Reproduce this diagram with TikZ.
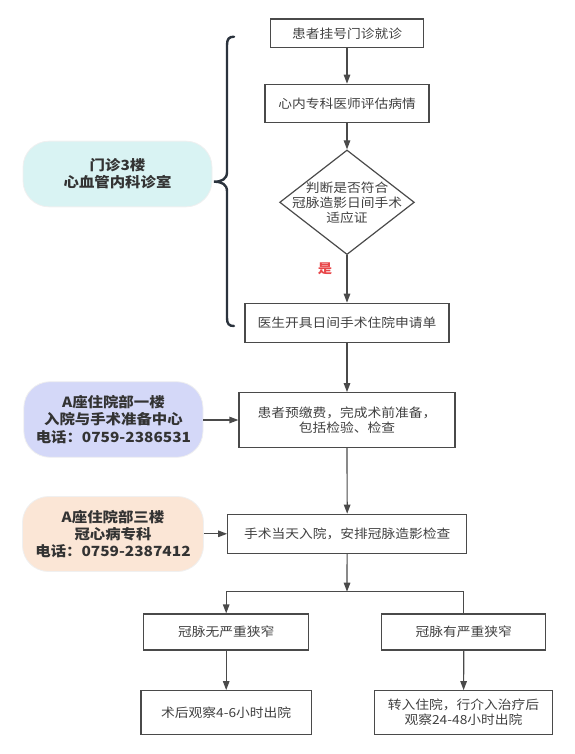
\documentclass[tikz,border=0pt]{standalone}
\usepackage{fontspec}
\setmainfont{Noto Sans CJK SC}[FakeStretch=1.1]
\usetikzlibrary{arrows.meta,shapes.geometric}
\definecolor{boxline}{HTML}{4A4A4A}
\definecolor{boxtext}{HTML}{404040}
\definecolor{bracecol}{HTML}{2B333D}
\definecolor{tealfill}{HTML}{D9F3F3}
\definecolor{lavfill}{HTML}{D4D8F8}
\definecolor{peachfill}{HTML}{FBE6D6}
\definecolor{yesred}{HTML}{E8474A}
\tikzset{
  stepbox/.style = {draw = boxline, line width = 1.2pt, text = boxtext, inner sep = 0pt,
    align = center, font = \fontsize{12.5}{15.3}\selectfont},
  decision/.style = {diamond, draw = boxline, line width = 1.2pt, inner sep = 0pt,
    minimum width = 134.7pt, minimum height = 104.6pt},
  place/.style = {rounded corners = 26pt, draw = gray!12, line width = 0.8pt, text = black!80,
    inner sep = 0pt, align = center, font = \fontsize{14}{17.2}\selectfont\bfseries},
  flow/.style = {draw = boxline, line width = 1.2pt, -{Triangle[length = 9pt, width = 6.5pt]}},
  link/.style = {draw = boxline, line width = 1.2pt}
}
\begin{document}
\begin{tikzpicture}[x = 1pt, y = -1pt]
        \useasboundingbox (0,0) rectangle (574,754);
        % main column
        \node[stepbox, minimum width = 152.6pt, minimum height = 28.7pt](visit)at(347,33.3){患者挂号门诊就诊};
        \node[stepbox, minimum width = 164pt, minimum height = 38.4pt](assess)at(347,103.5){心内专科医师评估病情};
        \node[decision](judge)at(347,202.3){};
        \node[text = boxtext, align = center, font = \fontsize{12.5}{15}\selectfont](judgetext)at(judge.center){判断是否符合\\冠脉造影日间手术\\适应证};
        \node[stepbox, minimum width = 204pt, minimum height = 39.4pt](apply)at(347,323){医生开具日间手术住院申请单};
        \node[stepbox, minimum width = 216pt, minimum height = 54.6pt](prepare)at(347,420){患者预缴费，完成术前准备，\\包括检验、检查};
        \node[stepbox, minimum width = 239pt, minimum height = 39pt](admit)at(347.2,533.8){手术当天入院，安排冠脉造影检查};
        % branches
        \node[stepbox, minimum width = 164.8pt, minimum height = 36pt](mild)at(226.2,632){冠脉无严重狭窄};
        \node[stepbox, minimum width = 164pt, minimum height = 36pt](severe)at(463.8,632){冠脉有严重狭窄};
        \node[stepbox, minimum width = 170.5pt, minimum height = 43.6pt](leave)at(226.2,712.5){术后观察4-6小时出院};
        \node[stepbox, minimum width = 177.5pt, minimum height = 43.6pt](transfer)at(463.5,712.5){转入住院，行介入治疗后\\观察24-48小时出院};
        \coordinate(split)at(347,591.7);
        \coordinate(splitL)at(226.2,591.7);
        \coordinate(splitR)at(463.8,591.7);
        % places
        \node[place, fill = tealfill, minimum width = 189pt, minimum height = 65.7pt](clinic)at(117.5,174){门诊3楼\\心血管内科诊室};
        \node[place, fill = lavfill, minimum width = 179.2pt, minimum height = 75.6pt](center)at(113.4,419.5){A座住院部一楼\\入院与手术准备中心\\电话：0759-2386531};
        \node[place, fill = peachfill, minimum width = 181pt, minimum height = 75pt](ward)at(113,534){A座住院部三楼\\冠心病专科\\电话：0759-2387412};
        % yes label
        \node[text = yesred, font = \fontsize{13}{15}\selectfont\bfseries](yes)at(325,269){是};
        % arrows
        \path[flow](visit)--(assess);
        \path[flow](assess)--(judge.north);
        \path[flow](judge.south)--(apply);
        \path[flow](apply)--(prepare);
        \path[flow](prepare)--(admit);
        \path[flow](admit)--(split);
        \path[link](splitL)--(splitR);
        \path[flow](splitL)--(mild);
        \path[link](splitR)--(severe);
        \path[flow](mild)--(leave);
        \path[flow](severe)--(transfer);
        \path[flow](center.east|-prepare)--(prepare.west);
        \path[flow](ward.east|-admit)--(admit.west);
        % brace
        \draw[bracecol, line width = 2.4pt, line cap = round]
          (234,36.7) .. controls (229,36.7) and (227,39) .. (227,45) -- (227,172)
          .. controls (227,179) and (222,181.7) .. (214,181.7)
          .. controls (222,181.7) and (227,184.4) .. (227,191.4) -- (227,318)
          .. controls (227,324) and (229,326) .. (234,326);
\end{tikzpicture}
\end{document}
